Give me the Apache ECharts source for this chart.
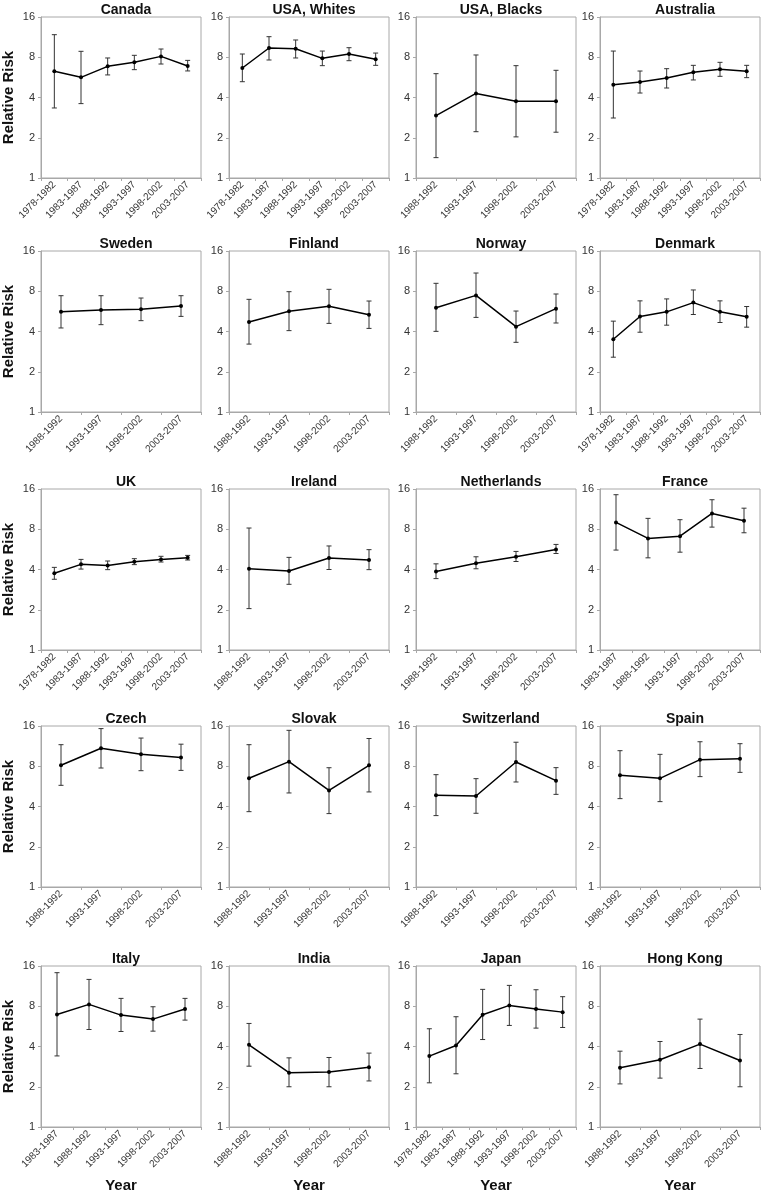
<!DOCTYPE html>
<html>
<head>
<meta charset="utf-8">
<script src="https://cdn.jsdelivr.net/npm/echarts@6/dist/echarts.min.js"></script>
<style>
  html, body { margin: 0; padding: 0; background: #fff; }
  #chart { width: 764px; height: 1193px; }
</style>
</head>
<body>
<div id="chart"></div>
<script>
const titles = ['Canada', 'USA, Whites', 'USA, Blacks', 'Australia',
  'Sweden', 'Finland', 'Norway', 'Denmark',
  'UK', 'Ireland', 'Netherlands', 'France',
  'Czech', 'Slovak', 'Switzerland', 'Spain',
  'Italy', 'India', 'Japan', 'Hong Kong']

const p6 = ['1978-1982', '1983-1987', '1988-1992', '1993-1997', '1998-2002', '2003-2007']
const p5 = ['1983-1987', '1988-1992', '1993-1997', '1998-2002', '2003-2007']
const p4 = ['1988-1992', '1993-1997', '1998-2002', '2003-2007']
const periods = [p6, p6, p4, p6, p4, p4, p4, p6, p6, p4, p4, p5, p4, p4, p4, p4, p5, p4, p6, p4]

const yTicks = [1, 2, 4, 8, 16]

// relative risk
const rr = [
  [6.28, 5.66, 6.84, 7.33, 8.12, 6.88],
  [6.65, 9.38, 9.27, 7.85, 8.46, 7.72],
  [2.93, 4.29, 3.75, 3.75],
  [4.99, 5.22, 5.6, 6.17, 6.5, 6.28],
  [5.63, 5.79, 5.86, 6.2],
  [4.71, 5.66, 6.17, 5.34],
  [6.03, 7.45, 4.35, 5.93],
  [3.5, 5.18, 5.61, 6.58, 5.61, 5.15],
  [3.75, 4.37, 4.29, 4.58, 4.76, 4.9],
  [4.06, 3.9, 4.88, 4.71],
  [3.86, 4.46, 4.98, 5.65],
  [9.0, 6.83, 7.1, 10.5, 9.27],
  [8.13, 10.9, 9.82, 9.32],
  [6.5, 8.66, 5.28, 8.13],
  [4.85, 4.79, 8.61, 6.24],
  [6.84, 6.5, 8.96, 9.12],
  [6.95, 8.26, 6.87, 6.41, 7.62],
  [4.12, 2.55, 2.58, 2.8],
  [3.39, 4.07, 6.91, 8.12, 7.62, 7.23],
  [2.77, 3.18, 4.17, 3.14]
]
// lower 95% CI
const lo = [
  [3.34, 3.6, 5.9, 6.46, 7.12, 6.32],
  [5.25, 7.63, 7.9, 6.92, 7.54, 6.96],
  [1.42, 2.22, 2.03, 2.2],
  [2.81, 4.32, 4.71, 5.41, 5.76, 5.63],
  [4.25, 4.5, 4.82, 5.19],
  [3.22, 4.06, 4.6, 4.22],
  [4.01, 5.1, 3.32, 4.63],
  [2.57, 3.95, 4.46, 5.36, 4.67, 4.31],
  [3.38, 4.03, 3.99, 4.35, 4.55, 4.71],
  [2.04, 3.1, 4.0, 3.99],
  [3.42, 4.05, 4.59, 5.27],
  [5.59, 4.89, 5.39, 8.3, 7.53],
  [5.76, 7.76, 7.41, 7.45],
  [3.66, 5.05, 3.54, 5.14],
  [3.42, 3.56, 6.1, 4.93],
  [4.58, 4.35, 6.69, 7.2],
  [3.4, 5.36, 5.18, 5.21, 6.3],
  [2.85, 2.0, 2.0, 2.21],
  [2.14, 2.5, 4.51, 5.75, 5.49, 5.55],
  [2.1, 2.32, 2.74, 2.0]
]
// upper 95% CI
const hi = [
  [11.8, 8.86, 7.9, 8.27, 9.22, 7.58],
  [8.46, 11.4, 10.77, 8.9, 9.43, 8.6],
  [6.03, 8.32, 6.92, 6.39],
  [8.9, 6.31, 6.57, 6.96, 7.33, 6.96],
  [7.41, 7.41, 7.12, 7.41],
  [6.96, 7.94, 8.27, 6.76],
  [9.17, 10.95, 5.69, 7.63],
  [4.78, 6.78, 7.01, 8.18, 6.78, 6.15],
  [4.15, 4.76, 4.63, 4.82, 5.02, 5.1],
  [8.17, 4.93, 6.0, 5.63],
  [4.41, 4.98, 5.46, 6.16],
  [14.5, 9.65, 9.43, 13.3, 11.5],
  [11.6, 15.3, 13.0, 11.7],
  [11.6, 14.85, 7.8, 12.9],
  [6.92, 6.46, 12.1, 7.81],
  [10.46, 9.82, 12.2, 11.8],
  [14.26, 12.7, 9.16, 7.93, 9.16],
  [5.95, 3.29, 3.31, 3.57],
  [5.43, 6.68, 10.7, 11.46, 10.63, 9.43],
  [3.69, 4.36, 6.41, 4.92]
]

const colLeft = [41, 229, 416, 600]
const rowTop = [17, 251, 489, 726, 966]
const plotW = 160
const plotH = 161
const font = 'Liberation Sans, Arial, sans-serif'

const chart = echarts.init(document.getElementById('chart'))

const grid = [], xAxis = [], yAxis = [], series = [], title = []

titles.forEach((name, i) => {
  const row = Math.floor(i / 4)
  const col = i % 4
  grid.push({
    left: colLeft[col], top: rowTop[row], width: plotW, height: plotH,
    outerBoundsMode: 'none',
    containLabel: false,
    show: true, borderColor: '#a8a8a8', borderWidth: 1, backgroundColor: '#fff'
  })
  title.push({
    text: name,
    left: colLeft[col] + plotW / 2,
    top: rowTop[row] - 19,
    textAlign: 'center',
    textStyle: { fontFamily: font, fontSize: 14, fontWeight: 'bold', color: '#111' }
  })
  xAxis.push({
    type: 'category',
    gridIndex: i,
    data: periods[i],
    boundaryGap: true,
    name: row === 4 ? 'Year' : '',
    nameLocation: 'middle',
    nameGap: 51,
    nameTextStyle: { fontFamily: font, fontSize: 15, fontWeight: 'bold', color: '#111' },
    axisLine: { lineStyle: { color: '#a8a8a8', width: 1 } },
    axisTick: { show: true, length: 3, alignWithLabel: false, lineStyle: { color: '#a8a8a8' } },
    axisLabel: { rotate: 45, fontFamily: font, fontSize: 10, color: '#333', margin: 5, interval: 0 },
    splitLine: { show: false }
  })
  yAxis.push({
    type: 'log',
    logBase: 2,
    gridIndex: i,
    min: yTicks[0],
    max: yTicks[yTicks.length - 1],
    splitNumber: 4,
    name: col === 0 ? 'Relative Risk' : '',
    nameLocation: 'middle',
    nameGap: 25,
    nameTextStyle: { fontFamily: font, fontSize: 15, fontWeight: 'bold', color: '#111' },
    axisLine: { show: true, lineStyle: { color: '#a8a8a8', width: 1 } },
    axisTick: { show: true, length: 3, lineStyle: { color: '#a8a8a8' } },
    axisLabel: { fontFamily: font, fontSize: 11, color: '#333', margin: 6 },
    splitLine: { show: false }
  })
  series.push({
    type: 'custom',
    xAxisIndex: i,
    yAxisIndex: i,
    data: periods[i].map((p, j) => [j, lo[i][j], hi[i][j]]),
    renderItem(params, api) {
      const a = api.coord([api.value(0), api.value(1)])
      const b = api.coord([api.value(0), api.value(2)])
      const w = 2.5
      const st = { stroke: '#333', lineWidth: 1 }
      return {
        type: 'group',
        children: [
          { type: 'line', shape: { x1: a[0], y1: a[1], x2: b[0], y2: b[1] }, style: st },
          { type: 'line', shape: { x1: a[0] - w, y1: a[1], x2: a[0] + w, y2: a[1] }, style: st },
          { type: 'line', shape: { x1: b[0] - w, y1: b[1], x2: b[0] + w, y2: b[1] }, style: st }
        ]
      }
    },
    z: 1,
    silent: true
  })
  series.push({
    type: 'line',
    xAxisIndex: i,
    yAxisIndex: i,
    data: rr[i],
    symbol: 'circle',
    symbolSize: 4,
    itemStyle: { color: '#000' },
    lineStyle: { color: '#000', width: 1.5 },
    z: 3,
    silent: true
  })
})

chart.setOption({
  animation: false,
  backgroundColor: '#fff',
  title,
  grid,
  xAxis,
  yAxis,
  series
})
</script>
</body>
</html>
